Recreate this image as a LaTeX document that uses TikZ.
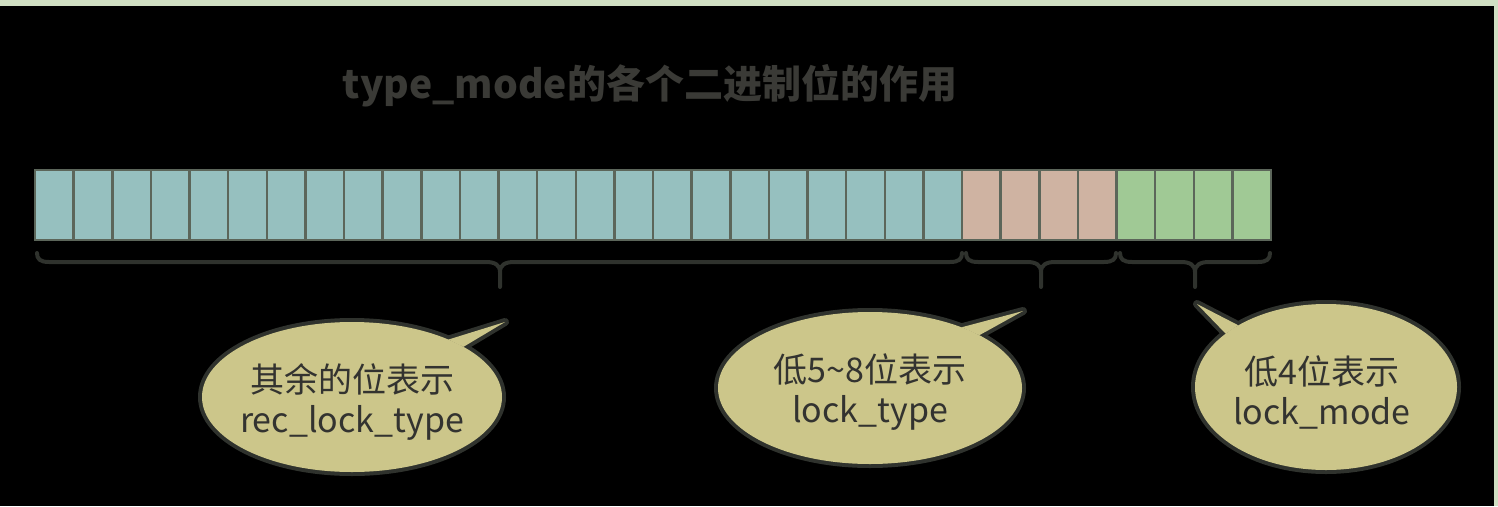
\documentclass[tikz,border=0pt]{standalone}
\usepackage{fontspec}
\newfontfamily\cjk{Noto Sans CJK SC}
\usetikzlibrary{calc}
\pgfdeclarelayer{bg}
\pgfdeclarelayer{mid}
\pgfsetlayers{bg,mid,main}
\definecolor{stripc}{HTML}{D0DFC3}
\definecolor{tealc}{HTML}{96C0BF}
\definecolor{pinkc}{HTML}{CFB3A2}
\definecolor{greenc}{HTML}{A0C995}
\definecolor{barc}{HTML}{5C665A}
\definecolor{darkc}{HTML}{2F322D}
\definecolor{calloutc}{HTML}{CCC68A}
\definecolor{textc}{HTML}{333330}
\definecolor{titlec}{HTML}{3A3A36}
\newcommand\mybrace[3]{%
  \draw[bracestyle] (#1,253) .. controls (#1,259) and (#1+3,262) .. (#1+12,262)
    -- (#2-14,262) .. controls (#2-5,262) and (#2,265) .. (#2,272) -- (#2,287)
    (#2,272) .. controls (#2,265) and (#2+5,262) .. (#2+14,262)
    -- (#3-12,262) .. controls (#3-3,262) and (#3,259) .. (#3,253);}
\begin{document}
\begin{tikzpicture}[x=1pt,y=-1pt,
  cell/.style={draw=barc,line width=2.5pt,minimum width=38.625pt,minimum height=70pt,inner sep=0pt,outer sep=0pt},
  bracestyle/.style={draw=darkc,line width=4pt,line cap=round,line join=round},
  ctext/.style={font=\cjk\fontsize{34}{40}\selectfont,text=textc,align=center,inner sep=0pt},
  title/.style={font=\cjk\bfseries\fontsize{39}{44}\selectfont,text=titlec,inner sep=0pt},
  cout/.style={draw=darkc,line width=8pt,line join=round},
  cfill/.style={fill=calloutc}]
\useasboundingbox (0,0) rectangle (1498,506);
\begin{pgfonlayer}{bg}
  \fill[black] (0,0) rectangle (1498,506);
  \fill[stripc] (0,0) rectangle (1498,6);
  \fill[stripc] (1494,0) rectangle (1498,506);
\end{pgfonlayer}

\node[title] (title) at (650,86) {type\_mode的各个二进制位的作用};

\foreach \i in {0,...,23}
  \node[cell,fill=tealc] (cell\i) at ({35+(\i+0.5)*38.625},205) {};
\foreach \i in {24,...,27}
  \node[cell,fill=pinkc] (cell\i) at ({35+(\i+0.5)*38.625},205) {};
\foreach \i in {28,...,31}
  \node[cell,fill=greenc] (cell\i) at ({35+(\i+0.5)*38.625},205) {};

\mybrace{37}{500}{962}
\mybrace{966}{1041}{1116}
\mybrace{1120}{1195}{1270}

\node[ctext] (c1) at (352,402) {其余的位表示\\rec\_lock\_type};
\node[ctext] (c2) at (870,392) {低5\textasciitilde 8位表示\\lock\_type};
\node[ctext] (c3) at (1322,392) {低4位表示\\lock\_mode};
\coordinate (e1) at (352,397);
\coordinate (e2) at (870,388);
\coordinate (e3) at (1326,387);
\coordinate (t1) at (505,322);
\coordinate (t2) at (1023,311);
\coordinate (t3) at (1197,304);

\begin{pgfonlayer}{mid}
  \draw[cout] (e1) ellipse [x radius=150, y radius=75];
  \draw[cout] ($(e1)+(-42:150 and 75)$) -- (t1) -- ($(e1)+(-50:150 and 75)$) -- cycle;
  \draw[cout] (e2) ellipse [x radius=152, y radius=76];
  \draw[cout] ($(e2)+(-44:152 and 76)$) -- (t2) -- ($(e2)+(-53:152 and 76)$) -- cycle;
  \draw[cout] (e3) ellipse [x radius=131, y radius=83];
  \draw[cout] ($(e3)+(-132:131 and 83)$) -- (t3) -- ($(e3)+(-140:131 and 83)$) -- cycle;
  \fill[cfill] (e1) ellipse [x radius=150, y radius=75];
  \fill[cfill] ($(e1)+(-42:150 and 75)$) -- (t1) -- ($(e1)+(-50:150 and 75)$) -- cycle;
  \fill[cfill] (e2) ellipse [x radius=152, y radius=76];
  \fill[cfill] ($(e2)+(-44:152 and 76)$) -- (t2) -- ($(e2)+(-53:152 and 76)$) -- cycle;
  \fill[cfill] (e3) ellipse [x radius=131, y radius=83];
  \fill[cfill] ($(e3)+(-132:131 and 83)$) -- (t3) -- ($(e3)+(-140:131 and 83)$) -- cycle;
\end{pgfonlayer}
\end{tikzpicture}
\end{document}
